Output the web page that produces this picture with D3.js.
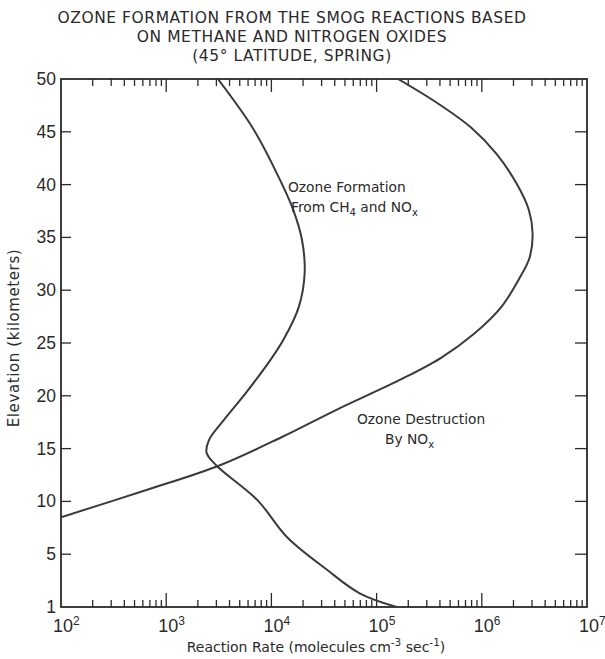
<!DOCTYPE html>
<html><head><meta charset="utf-8">
<script src="https://cdn.jsdelivr.net/npm/d3@7"></script>
<style>
html,body{margin:0;padding:0;background:#fff;}
svg{display:block;}
</style></head>
<body>
<svg id="c" width="605" height="659"></svg>
<script>
// ---- data ----
const titleLines = ["OZONE FORMATION FROM THE SMOG REACTIONS BASED", "ON METHANE AND NITROGEN OXIDES", "(45\u00B0 LATITUDE, SPRING)"];
const formationElev = [50, 45.2, 40.5, 37.7, 34.8, 31.6, 28.4, 25.3, 23.4, 20.3, 17.5, 15.8, 14.6, 13.4, 10.1, 6.6, 3.5, 1.3, 0];
const formationRate = [3.1e3, 6.8e3, 1.2e4, 1.6e4, 1.95e4, 2.07e4, 1.82e4, 1.3e4, 9.8e3, 5.75e3, 3.4e3, 2.55e3, 2.42e3, 3.0e3, 7.4e3, 1.41e4, 3.4e4, 6.9e4, 1.55e5];
const destructionElev = [50, 47.7, 45.4, 42.9, 40.1, 37.6, 35.4, 33.1, 31.0, 28.4, 25.9, 23.6, 21.5, 18.7, 16.1, 13.4, 11.1, 8.5];
const destructionRate = [1.6e5, 3.8e5, 7.9e5, 1.38e6, 2.14e6, 2.8e6, 3.04e6, 2.85e6, 2.24e6, 1.53e6, 8.5e5, 4.1e5, 1.66e5, 4.2e4, 1.26e4, 3.2e3, 660, 100];
const yTickValues = [0, 5, 10, 15, 20, 25, 30, 35, 40, 45, 50];
const yTickLabels = ["1", "5", "10", "15", "20", "25", "30", "35", "40", "45", "50"];
const xDecades = [1e2, 1e3, 1e4, 1e5, 1e6, 1e7];
const xDecadeExps = ["2", "3", "4", "5", "6", "7"];

// ---- layout ----
const L = 61, R = 587, T = 79, B = 607;
const svg = d3.select("#c");
const x = d3.scaleLog().domain([1e2, 1e7]).range([L, R]);
const y = d3.scaleLinear().domain([0, 50]).range([B, T]);
const ink = "#2a2a2a";
const font = "DejaVu Sans, sans-serif";

// title
svg.append("g").selectAll("text").data(titleLines).join("text")
  .attr("x", 292).attr("y", (d, i) => 23 + i * 19)
  .attr("text-anchor", "middle").attr("font-family", font).attr("font-size", 15.5)
  .attr("letter-spacing", 0.55)
  .attr("fill", ink).text(d => d);

// frame
svg.append("rect").attr("x", L).attr("y", T).attr("width", R - L).attr("height", B - T)
  .attr("fill", "none").attr("stroke", ink).attr("stroke-width", 1.8);

// x minor/major ticks (bottom up, top down)
const minor = [];
for (let e = 2; e < 7; e++) for (let k = 2; k <= 9; k++) minor.push(k * Math.pow(10, e));
const tg = svg.append("g").attr("stroke", ink).attr("stroke-width", 1.3);
tg.selectAll(".mb").data(minor).join("line")
  .attr("x1", d => x(d)).attr("x2", d => x(d)).attr("y1", B).attr("y2", B - 7);
tg.selectAll(".mt").data(minor).join("line")
  .attr("x1", d => x(d)).attr("x2", d => x(d)).attr("y1", T).attr("y2", T + 7);
const inner = xDecades.slice(1, -1);
tg.selectAll(".Mb").data(inner).join("line")
  .attr("x1", d => x(d)).attr("x2", d => x(d)).attr("y1", B).attr("y2", B - 14);
tg.selectAll(".Mt").data(inner).join("line")
  .attr("x1", d => x(d)).attr("x2", d => x(d)).attr("y1", T).attr("y2", T + 13);
// y ticks left and right
const yIn = yTickValues.filter(v => v > 0 && v < 50);
tg.selectAll(".yl").data(yIn).join("line")
  .attr("x1", L).attr("x2", L + 10).attr("y1", d => y(d)).attr("y2", d => y(d));
tg.selectAll(".yr").data(yIn).join("line")
  .attr("x1", R).attr("x2", R - 12).attr("y1", d => y(d)).attr("y2", d => y(d));

// y tick labels
svg.append("g").selectAll("text").data(yTickValues).join("text")
  .attr("x", L - 5).attr("y", d => y(d) + 6)
  .attr("text-anchor", "end").attr("font-family", "Liberation Sans, sans-serif").attr("font-size", 17.5)
  .attr("fill", ink).text((d, i) => yTickLabels[i]);

// x tick labels
const xl = svg.append("g").selectAll("text").data(xDecades).join("text")
  .attr("x", d => x(d) - 8).attr("y", 632)
  .attr("font-family", "Liberation Sans, sans-serif").attr("font-size", 18).attr("fill", ink);
xl.append("tspan").text("10");
xl.append("tspan").attr("dy", -7).attr("font-size", 12).text((d, i) => xDecadeExps[i]);

// axis titles
const xt = svg.append("text").attr("x", 316).attr("y", 652).attr("text-anchor", "middle")
  .attr("font-family", font).attr("font-size", 14).attr("fill", ink);
xt.append("tspan").text("Reaction Rate (molecules cm");
xt.append("tspan").attr("dy", -6).attr("font-size", 10.5).text("-3");
xt.append("tspan").attr("dy", 6).text(" sec");
xt.append("tspan").attr("dy", -6).attr("font-size", 10.5).text("-1");
xt.append("tspan").attr("dy", 6).text(")");

svg.append("text").attr("transform", "translate(19,338) rotate(-90)").attr("text-anchor", "middle")
  .attr("font-family", font).attr("font-size", 15).attr("letter-spacing", 0.6).attr("fill", ink)
  .text("Elevation (kilometers)");

// curves
svg.append("clipPath").attr("id", "clip").append("rect")
  .attr("x", L).attr("y", T).attr("width", R - L).attr("height", B - T);
const line = d3.line().x(d => x(d[1])).y(d => y(d[0])).curve(d3.curveCatmullRom.alpha(0.5));
const series = [
  formationElev.map((e, i) => [e, formationRate[i]]),
  destructionElev.map((e, i) => [e, destructionRate[i]])
];
svg.append("g").attr("clip-path", "url(#clip)").selectAll("path").data(series).join("path")
  .attr("d", line).attr("fill", "none").attr("stroke", "#3a3a3a").attr("stroke-width", 2);

// annotations
function label(xp, yp, parts) {
  const t = svg.append("text").attr("x", xp).attr("y", yp)
    .attr("font-family", font).attr("font-size", 13.8).attr("fill", ink);
  parts.forEach(p => {
    const s = t.append("tspan").text(p[0]);
    if (p[1] === "sub") s.attr("font-size", 10).attr("dy", 4);
    if (p[1] === "back") s.attr("dy", -4);
  });
}
label(288, 192, [["Ozone Formation"]]);
label(291, 212, [["From CH"], ["4", "sub"], [" and NO", "back"], ["x", "sub"]]);
label(357, 424, [["Ozone Destruction"]]);
label(385, 444, [["By NO"], ["x", "sub"]]);
</script>
</body></html>
